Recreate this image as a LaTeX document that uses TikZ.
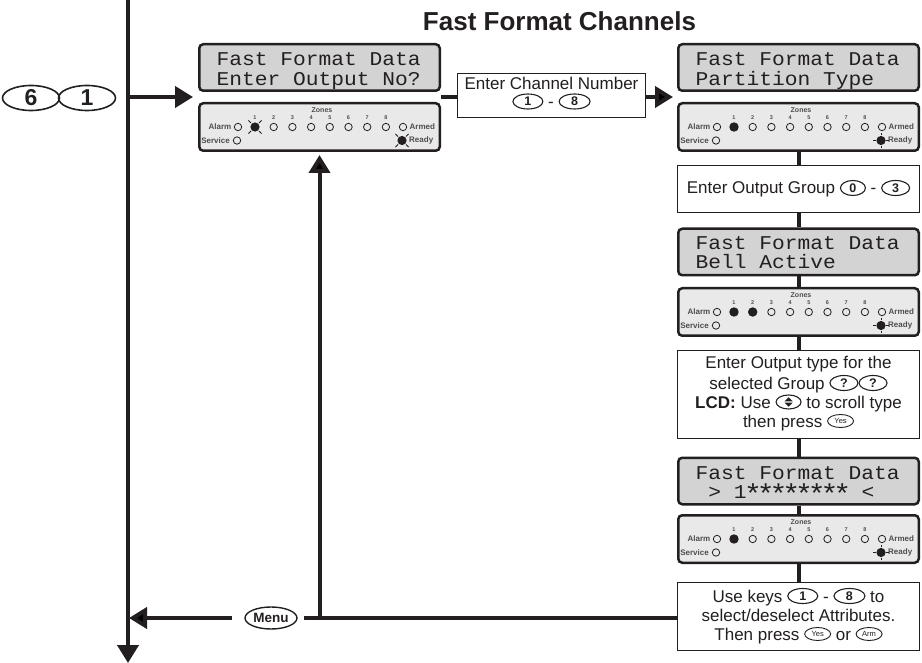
\documentclass[tikz,border=0pt]{standalone}
\usepackage{graphicx}
\usepackage{fontspec}
\setmainfont{Liberation Sans}
\newfontfamily\lcdf[FakeStretch=1.09]{Liberation Mono}
\usetikzlibrary{shapes.geometric,arrows.meta}
\definecolor{ink}{HTML}{231F20}
\definecolor{lcdgray}{HTML}{D3D3D3}
\definecolor{ledgray}{HTML}{E9E9E9}
\definecolor{ledtext}{HTML}{4D4D4D}
\tikzset{
  conn/.style={draw=ink, line width=4pt},
  arr/.style={conn, -{Triangle[length=18pt,width=21pt]}},
  lcdbox/.style={draw=ink, line width=2.5pt, fill=lcdgray, rounded corners=4pt, minimum width=240.5pt, minimum height=46.5pt, inner sep=0pt},
  ledbox/.style={lcdbox, fill=ledgray, minimum height=47.5pt},
  lcdtxt/.style={anchor=base west, inner sep=0pt, text=ink, font=\lcdf\fontsize{19.5}{19.5}\selectfont},
  infobox/.style={draw=ink, line width=1.2pt, fill=white, inner sep=0pt},
  boxtxt/.style={anchor=base, inner sep=0pt, text=ink, font=\fontsize{17}{17}\selectfont},
  keycap/.style={ellipse, draw=ink, line width=1.1pt, inner sep=0pt, anchor=center, minimum height=15pt, text=ink, font=\bfseries\fontsize{12.5}{12.5}\selectfont},
  smallkey/.style={keycap, minimum width=26pt, minimum height=13pt, line width=0.9pt, font=\fontsize{7.5}{7.5}\selectfont},
  bigkey/.style={keycap, minimum width=57pt, minimum height=25pt, line width=1.6pt, font=\bfseries\fontsize{23}{23}\selectfont},
  menukey/.style={keycap, minimum width=52pt, minimum height=22pt, line width=1.4pt, font=\bfseries\fontsize{13.5}{13.5}\selectfont},
  ledoff/.style={circle, draw=ink, line width=0.8pt, minimum size=7.4pt, inner sep=0pt},
  ledlbl/.style={inner sep=0pt, text=ledtext, font=\bfseries\fontsize{8}{8}\selectfont},
  zonenum/.style={inner sep=0pt, text=ledtext, font=\bfseries\fontsize{5.5}{5.5}\selectfont},
  ray/.style={draw=ink, line width=0.8pt},
}
\newcommand\kbd[2][28]{\tikz[x=1pt,y=1pt,baseline=-6pt]\node[keycap,minimum width=#1pt] (kk) at (0,0) {#2};}
\newcommand\yeskey{\tikz[x=1pt,y=1pt,baseline=-6pt]\node[smallkey] (ky) at (0,0) {Yes};}
\newcommand\armkey{\tikz[x=1pt,y=1pt,baseline=-6pt]\node[smallkey] (ka) at (0,0) {Arm};}
\newcommand\scrollkey{\tikz[x=1pt,y=1pt,baseline=-6pt]{\node[keycap,minimum width=25pt,minimum height=14pt] (ks) at (0,0) {};
  \fill[ink] (-4,0.7) -- (4,0.7) -- (0,4.8) -- cycle;
  \fill[ink] (-4,-0.7) -- (4,-0.7) -- (0,-4.8) -- cycle;}}
\newcommand\lcdstar{\makebox[0.654em][c]{\raisebox{-5pt}{\scalebox{1.4}{*}}}}
\newcommand\litled[2]{\fill[ink] (#1,#2) circle (4.7pt);}
\newcommand\flashx[2]{\fill[ink] (#1,#2) circle (4.6pt);
  \draw[ray] (#1+4,#2+4) -- (#1+6.6,#2+6.6);
  \draw[ray] (#1-4,#2+4) -- (#1-6.6,#2+6.6);
  \draw[ray] (#1+4,#2-4) -- (#1+6.6,#2-6.6);
  \draw[ray] (#1-4,#2-4) -- (#1-6.6,#2-6.6);}
\newcommand\flashp[2]{\fill[ink] (#1,#2) circle (4.6pt);
  \draw[ray] (#1-5.2,#2) -- (#1-8.3,#2);
  \draw[ray] (#1+5.2,#2) -- (#1+8.3,#2);
  \draw[ray] (#1,#2-5.2) -- (#1,#2-7.6);
  \draw[ray] (#1,#2+5.2) -- (#1,#2+7.6);}
\newcommand\ledpanel[4]{%
  \node[ledbox] (#1) at (#2+121.5,#3+25) {};
  \begin{scope}[shift={(#2,#3)}]
    \node[zonenum, font=\bfseries\fontsize{7}{7}\selectfont] (#1zones) at (124,8.5) {Zones};
    \foreach \k in {1,...,8}{
      \node[zonenum] (#1n\k) at ({57+18.7*(\k-1)},16) {\k};
      \node[ledoff] (#1d\k) at ({57+18.7*(\k-1)},25) {};
    }
    \node[ledoff] (#1alarm) at (40,25) {};
    \node[ledlbl, anchor=east] (#1alarmt) at (33.5,25) {Alarm};
    \node[ledoff] (#1armed) at (205,25) {};
    \node[ledlbl, anchor=west] (#1armedt) at (211.5,25) {Armed};
    \node[ledoff] (#1serv) at (39,38.5) {};
    \node[ledlbl, anchor=east] (#1servt) at (32,38.5) {Service};
    \node[ledlbl, anchor=west] (#1readyt) at (211,38.5) {Ready};
    #4
  \end{scope}}
\begin{document}
\begin{tikzpicture}[x=1pt,y=-1pt]
\useasboundingbox (0,0) rectangle (922,663);
\node[font=\bfseries\fontsize{26}{26}\selectfont, anchor=base, inner sep=0pt, text=ink] (title) at (559.5,31) {Fast Format Channels};
% main flow line
\coordinate (mtop) at (128,0);
\coordinate (mbot) at (128,663);
\draw[arr] (mtop) -- (mbot);
\coordinate (row1) at (0,97);
\coordinate (row2) at (0,618);
% 6 1 keys
\node[bigkey] (k6) at (31,98) {6};
\node[bigkey] (k1) at (87,98) {1};
% left display
\node[lcdbox] (lcd1) at (319.5,67.5) {};
\node[lcdtxt] (lcd1a) at (216.5,66) {Fast Format Data};
\node[lcdtxt] (lcd1b) at (216.5,85.5) {Enter Output No?};
\ledpanel{led1}{198}{102}{\flashx{57}{25}\flashx{204}{38.5}}
\draw[arr, shorten >=5pt] (mtop |- row1) -- (lcd1.west |- row1);
% channel box
\node[infobox, minimum width=187.8pt, minimum height=43.8pt] (chbox) at (551.5,95.5) {};
\node[boxtxt] (ch1) at (551.5,90) {Enter Channel Number};
\node[boxtxt] (ch2) at (551.5,107.5) {\kbd[30]{1} - \kbd[31]{8}};
% right column
\node[lcdbox] (lcd2) at (798.5,67.5) {};
\node[lcdtxt] (lcd2a) at (695.5,66) {Fast Format Data};
\node[lcdtxt] (lcd2b) at (695.5,85.5) {Partition Type};
\ledpanel{led2}{677}{102}{\litled{57}{25}\flashp{204}{38.5}}
\draw[conn] (lcd1.east |- row1) -- (chbox.west |- row1);
\draw[arr, shorten >=4pt] (chbox.east |- row1) -- (lcd2.west |- row1);
\node[infobox, minimum width=241.8pt, minimum height=46.8pt] (grp) at (798.5,189) {};
\node[boxtxt] (grpt) at (798.5,194) {Enter Output Group \kbd[25]{0} - \kbd[28]{3}};
\node[lcdbox] (lcd3) at (798.5,252) {};
\node[lcdtxt] (lcd3a) at (695.5,249.5) {Fast Format Data};
\node[lcdtxt] (lcd3b) at (695.5,269) {Bell Active};
\ledpanel{led3}{677}{287}{\litled{57}{25}\litled{75.7}{25}\flashp{204}{38.5}}
\node[infobox, minimum width=241.8pt, minimum height=87.8pt] (typ) at (798.5,394.5) {};
\node[boxtxt] (typ1) at (798.5,369) {Enter Output type for the};
\node[boxtxt] (typ2) at (798.5,389) {selected Group \kbd{?}\kbd{?}};
\node[boxtxt] (typ3) at (798.5,408) {\textbf{LCD:} Use \scrollkey{} to scroll type};
\node[boxtxt] (typ4) at (798.5,427) {then press \yeskey};
\node[lcdbox] (lcd4) at (798.5,481) {};
\node[lcdtxt] (lcd4a) at (695.5,479) {Fast Format Data};
\node[lcdtxt] (lcd4b) at (695.5,498.5) {\phantom{>}>\phantom{>}1\lcdstar\lcdstar\lcdstar\lcdstar\lcdstar\lcdstar\lcdstar\lcdstar\phantom{>}<};
\ledpanel{led4}{677}{514}{\litled{57}{25}\flashp{204}{38.5}}
\node[infobox, minimum width=241.8pt, minimum height=67.8pt] (last) at (798.5,616.5) {};
\node[boxtxt] (last1) at (798.5,602) {Use keys \kbd[30]{1} - \kbd[31]{8} to};
\node[boxtxt] (last2) at (798.5,621) {select/deselect Attributes.};
\node[boxtxt] (last3) at (798.5,640) {Then press \yeskey{} or \armkey};
% vertical connectors
\draw[conn] (led2) -- (grp);
\draw[conn] (grp) -- (lcd3);
\draw[conn] (lcd3) -- (led3);
\draw[conn] (led3) -- (typ);
\draw[conn] (typ) -- (lcd4);
\draw[conn] (lcd4) -- (led4);
\draw[conn] (led4) -- (last);
% menu return
\node[menukey] (menu) at (271,618) {Menu};
\draw[conn, shorten >=6pt] (last.west |- row2) -- (menu.east);
\draw[arr, shorten <=12pt, shorten >=1pt] (menu.west) -- (mtop |- row2);
\coordinate (upj) at (319.5,620);
\draw[arr, shorten >=3pt] (upj) -- (led1.south);
\end{tikzpicture}
\end{document}
